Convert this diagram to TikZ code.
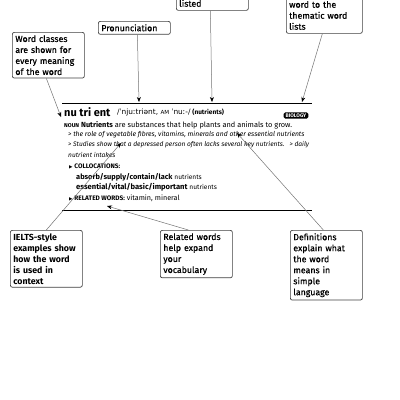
\documentclass[tikz,border=0pt]{standalone}
\usepackage{fontspec}
\setmainfont{Fira Sans}
\newfontfamily\medfont{Fira Sans}[FakeBold=0.6]
\newfontfamily\ipa{DejaVu Sans}
\usetikzlibrary{arrows.meta}
\begin{document}
\begin{tikzpicture}[x=1pt,y=-1pt,
  box/.style={draw=black!75, line width=0.7pt, rounded corners=2pt, fill=white,
    align=left, inner sep=3pt, anchor=north west,
    font=\medfont\fontsize{8.8}{11}\selectfont, text width=66pt},
  boxtxt/.style={align=left, inner sep=3pt, font=\medfont\fontsize{8.8}{11}\selectfont, text width=66pt},
  arr/.style={draw=black!55, line width=0.5pt, -{Stealth[length=5pt,width=4pt,black]}},
  dict/.style={anchor=west, inner sep=0pt, font=\fontsize{6.8}{7}\selectfont},
  rule/.style={line width=0.9pt}]
\useasboundingbox (0,0) rectangle (400,400);
\clip (0,0) rectangle (400,400);

% top boxes (cut off at top)
\node[box, minimum height=40pt] (listedbox) at (176,-30) {};
\node[boxtxt, anchor=south west] (listedtxt) at (176,10) {listed};
\node[box, text width=70pt, minimum height=63pt] (themebox) at (286,-30) {};
\node[boxtxt, anchor=south west, text width=70pt] (themetxt) at (286,33) {word to the\\thematic word\\lists};
\node[box] (pron) at (98,21) {Pronunciation};
\node[box] (classes) at (12,32) {Word classes\\are shown for\\every meaning\\of the word};

% bottom boxes
\node[box, font=\bfseries\fontsize{8.8}{11}\selectfont] (ielts) at (10,230) {IELTS-style\\examples show\\how the word\\is used in\\context};
\node[box] (related) at (160,230) {Related words\\help expand\\your\\vocabulary};
\node[box] (defs) at (290,230) {Definitions\\explain what\\the word\\means in\\simple\\language};

% rules
\coordinate (r1a) at (62,103); \coordinate (r1b) at (312,103);
\coordinate (r2a) at (62,210); \coordinate (r2b) at (312,210);
\draw[rule] (r1a) -- (r1b);
\draw[rule] (r2a) -- (r2b);

% entry
\node[anchor=west, inner sep=0pt, font=\bfseries\fontsize{11}{12}\selectfont] (head) at (64,112) {nu tri ent};
\node[dict, anchor=west] (pronun) at (117,112.5) {{\ipa\fontsize{7.4}{8}\selectfont /ˈnjuːtriənt, {\fontsize{5.6}{6}\selectfont AM} ˈnuː-/} \textbf{\fontsize{6.5}{7}\selectfont(nutrients)}};
\node[fill=black, text=white, rounded corners=1.5pt, inner xsep=2pt, inner ysep=1.2pt, font=\bfseries\fontsize{5.2}{6}\selectfont] (bio) at (296,115.5) {BIOLOGY};
\node[dict, font=\fontsize{7.4}{8}\selectfont] (l1) at (64,125) {{\bfseries\fontsize{5.6}{6}\selectfont NOUN} \textbf{Nutrients} are substances that help plants and animals to grow.};
\node[dict] (l2) at (68,135) {\itshape > the role of vegetable fibres, vitamins, minerals and other essential nutrients};
\node[dict, font=\fontsize{6.6}{7}\selectfont] (l3) at (68,145) {\itshape > Studies show that a depressed person often lacks several key nutrients.\ \ \ > daily};
\node[dict, font=\fontsize{6.6}{7}\selectfont] (l4) at (68,155) {\itshape nutrient intakes};
\node[dict] (l5) at (69,166) {{\ipa\fontsize{4.5}{5}\selectfont ▶} \textbf{\fontsize{6.5}{7}\selectfont COLLOCATIONS:}};
\node[dict] (l6) at (76,177) {\textbf{\fontsize{7.4}{8}\selectfont absorb/supply/contain/lack} {\fontsize{6.6}{7}\selectfont nutrients}};
\node[dict] (l7) at (76,187) {\textbf{\fontsize{7.6}{8}\selectfont essential/vital/basic/important} {\fontsize{6.6}{7}\selectfont nutrients}};
\node[dict] (l8) at (69,198) {{\ipa\fontsize{4.5}{5}\selectfont ▶} \textbf{\fontsize{6.5}{7}\selectfont RELATED WORDS:} {\fontsize{7.2}{8}\selectfont vitamin, mineral}};

% arrow targets
\coordinate (tClass) at (61,117);
\coordinate (tPron) at (139,102);
\coordinate (tList) at (212,102);
\coordinate (tTheme) at (302,102);
\coordinate (tIelts) at (121,143);
\coordinate (tRel) at (107,206);
\coordinate (tDef) at (237,133);

\draw[arr] ([xshift=-2pt]classes.south) -- (tClass);
\draw[arr] ([xshift=3pt]pron.south) -- (tPron);
\draw[arr] ([xshift=-2pt]listedbox.south) -- (tList);
\draw[arr] ([xshift=-2pt]themebox.south) -- (tTheme);
\draw[arr] ([xshift=0pt]ielts.north) -- (tIelts);
\draw[arr] ([xshift=-8pt]related.north) -- (tRel);
\draw[arr] ([xshift=-3pt]defs.north) -- (tDef);
\end{tikzpicture}
\end{document}
